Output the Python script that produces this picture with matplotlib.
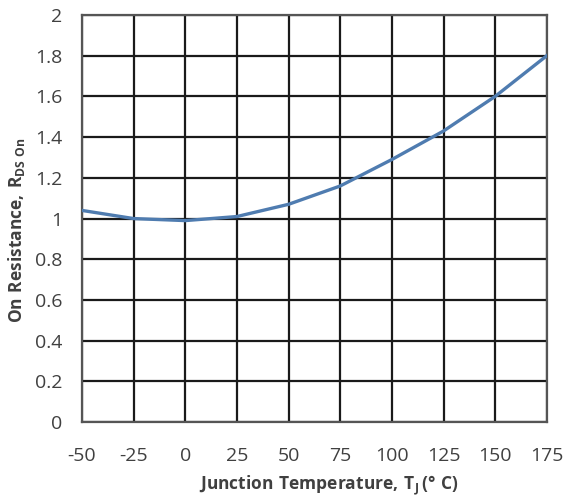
import matplotlib
matplotlib.use("Agg")
import matplotlib.pyplot as plt

# Normalized on-resistance vs junction temperature
temps = [-50, -25, 0, 25, 50, 75, 100, 125, 150, 175]
rds_on = [1.04, 1.00, 0.99, 1.01, 1.07, 1.16, 1.29, 1.43, 1.60, 1.80]

x_ticks = [-50, -25, 0, 25, 50, 75, 100, 125, 150, 175]
y_ticks = [0, 0.2, 0.4, 0.6, 0.8, 1, 1.2, 1.4, 1.6, 1.8, 2]
y_tick_labels = ["0", "0.2", "0.4", "0.6", "0.8", "1", "1.2", "1.4", "1.6", "1.8", "2"]

plt.rcParams["font.family"] = ["Open Sans", "DejaVu Sans"]
plt.rcParams["axes.unicode_minus"] = False
plt.rcParams["mathtext.fontset"] = "custom"
plt.rcParams["mathtext.rm"] = "Open Sans"
plt.rcParams["mathtext.bf"] = "Open Sans:bold"

fig = plt.figure(figsize=(5.69, 4.99), dpi=100)
ax = fig.add_axes([0.144, 0.154, 0.817, 0.816])

ax.plot(temps, rds_on, color="#4f7cb0", lw=2.4, zorder=3)

ax.set_xlim(-50, 175)
ax.set_ylim(0, 2)
ax.set_xticks(x_ticks)
ax.set_yticks(y_ticks)
ax.set_yticklabels(y_tick_labels)
ax.grid(True, color="#1a1a1a", lw=1.6, zorder=1)
ax.set_axisbelow(True)
for s in ax.spines.values():
    s.set_color("#555555")
    s.set_linewidth(1.6)
ax.tick_params(length=0, labelsize=14, colors="#404040")
ax.tick_params(axis="x", pad=18)
ax.tick_params(axis="y", pad=14)

ax.set_xlabel(r"$\mathbf{Junction\ Temperature,\,T}_{\mathbf{J}}\mathbf{\,(°\ C)}$",
              fontsize=12.5, color="#404040")
ax.set_ylabel(r"$\mathbf{On\ Resistance,\,R}_{\mathbf{DS\ On}}$",
              fontsize=12.5, color="#404040")
ax.xaxis.set_label_coords(0.53, -0.127)
ax.yaxis.set_label_coords(-0.118, 0.47)

fig.savefig("out.png", dpi=100)
